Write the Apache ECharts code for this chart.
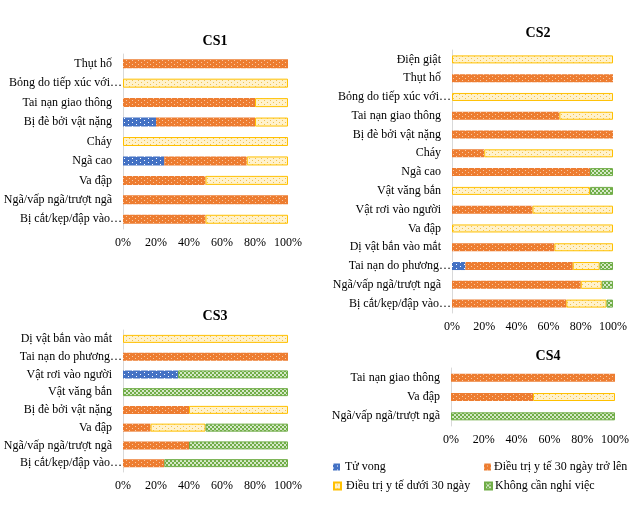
<!DOCTYPE html>
<html>
<head>
<meta charset="utf-8">
<script src="https://cdn.jsdelivr.net/npm/echarts@6/dist/echarts.min.js"></script>
<style>
  html, body { margin: 0; padding: 0; background: #fff; }
  #main { width: 640px; height: 506px; }
</style>
</head>
<body>
<div id="main"></div>
<script>
// du lieu (phan tram) - danh muc tu tren xuong duoi
var seriesNames = ['Tử vong', 'Điều trị y tế 30 ngày trở lên', 'Điều trị y tế dưới 30 ngày', 'Không cần nghỉ việc'];

var cs1Cats = ['Thụt hố', 'Bỏng do tiếp xúc với…', 'Tai nạn giao thông', 'Bị đè bởi vật nặng', 'Cháy', 'Ngã cao', 'Va đập', 'Ngã/vấp ngã/trượt ngã', 'Bị cắt/kẹp/đập vào…'];
var cs1Death    = [0, 0, 0, 20, 0, 25, 0, 0, 0];
var cs1Over30   = [100, 0, 80, 60, 0, 50, 50, 100, 50];
var cs1Under30  = [0, 100, 20, 20, 100, 25, 50, 0, 50];
var cs1NoLeave  = [0, 0, 0, 0, 0, 0, 0, 0, 0];

var cs2Cats = ['Điện giật', 'Thụt hố', 'Bỏng do tiếp xúc với…', 'Tai nạn giao thông', 'Bị đè bởi vật nặng', 'Cháy', 'Ngã cao', 'Vật văng bắn', 'Vật rơi vào người', 'Va đập', 'Dị vật bắn vào mắt', 'Tai nạn do phương…', 'Ngã/vấp ngã/trượt ngã', 'Bị cắt/kẹp/đập vào…'];
var cs2Death    = [0, 0, 0, 0, 0, 0, 0, 0, 0, 0, 0, 8.3, 0, 0];
var cs2Over30   = [0, 100, 0, 66.7, 100, 20, 85.7, 0, 50, 0, 63.6, 66.7, 80, 71];
var cs2Under30  = [100, 0, 100, 33.3, 0, 80, 0, 85.7, 50, 100, 36.4, 16.7, 13, 25];
var cs2NoLeave  = [0, 0, 0, 0, 0, 0, 14.3, 14.3, 0, 0, 0, 8.3, 7, 4];

var cs3Cats = ['Dị vật bắn vào mắt', 'Tai nạn do phương…', 'Vật rơi vào người', 'Vật văng bắn', 'Bị đè bởi vật nặng', 'Va đập', 'Ngã/vấp ngã/trượt ngã', 'Bị cắt/kẹp/đập vào…'];
var cs3Death    = [0, 0, 33.3, 0, 0, 0, 0, 0];
var cs3Over30   = [0, 100, 0, 0, 40, 16.7, 40, 25];
var cs3Under30  = [100, 0, 0, 0, 60, 33.3, 0, 0];
var cs3NoLeave  = [0, 0, 66.7, 100, 0, 50, 60, 75];

var cs4Cats = ['Tai nạn giao thông', 'Va đập', 'Ngã/vấp ngã/trượt ngã'];
var cs4Death    = [0, 0, 0];
var cs4Over30   = [100, 50, 0];
var cs4Under30  = [0, 50, 0];
var cs4NoLeave  = [0, 0, 100];

var FONT = 'Liberation Serif';

// hoa van cho cot
function dotPattern(bg, dot, w, h) {
	var c = document.createElement('canvas');
	c.width = w; c.height = h;
	var ctx = c.getContext('2d');
	ctx.fillStyle = bg;
	ctx.fillRect(0, 0, w, h);
	ctx.fillStyle = dot;
	ctx.fillRect(0, 0, 1, 1);
	ctx.fillRect(Math.floor(w / 2), Math.floor(h / 2), 1, 1);
	return { image: c, repeat: 'repeat' };
}
function checkPattern(a, b) {
	var c = document.createElement('canvas');
	c.width = 4; c.height = 4;
	var ctx = c.getContext('2d');
	ctx.fillStyle = a;
	ctx.fillRect(0, 0, 4, 4);
	ctx.fillStyle = b;
	ctx.fillRect(0, 0, 2, 2);
	ctx.fillRect(2, 2, 2, 2);
	return { image: c, repeat: 'repeat' };
}

var fills = [
	dotPattern('#4472C4', '#ffffff', 8, 4),
	dotPattern('#ED7D31', '#F8C9A6', 6, 4),
	dotPattern('#FFF2CC', '#F2C14E', 6, 4),
	checkPattern('#70AD47', '#D5E8C8')
];
var borders = ['#4472C4', '#ED7D31', '#FFC000', '#70AD47'];

var charts = [
	{ title: 'CS1', tx: 210, ty: 29, cats: cs1Cats, data: [cs1Death, cs1Over30, cs1Under30, cs1NoLeave],
	  grid: { left: 123, top: 54, width: 165, height: 175 }, bw: 9 },
	{ title: 'CS2', tx: 533, ty: 21, cats: cs2Cats, data: [cs2Death, cs2Over30, cs2Under30, cs2NoLeave],
	  grid: { left: 452, top: 50, width: 161, height: 263 }, bw: 8 },
	{ title: 'CS3', tx: 210, ty: 304, cats: cs3Cats, data: [cs3Death, cs3Over30, cs3Under30, cs3NoLeave],
	  grid: { left: 123, top: 330, width: 165, height: 142 }, bw: 8 },
	{ title: 'CS4', tx: 543, ty: 344, cats: cs4Cats, data: [cs4Death, cs4Over30, cs4Under30, cs4NoLeave],
	  grid: { left: 451, top: 368, width: 164, height: 58 }, bw: 8 }
];

var titles = [], grids = [], xAxes = [], yAxes = [], series = [];
charts.forEach(function (ch, gi) {
	titles.push({
		text: ch.title, left: ch.tx, top: ch.ty, textAlign: 'center',
		textStyle: { fontFamily: FONT, fontSize: 14, fontWeight: 'bold', color: '#000' }
	});
	grids.push(ch.grid);
	xAxes.push({
		type: 'value', gridIndex: gi, min: 0, max: 100, interval: 20,
		axisLine: { show: false }, axisTick: { show: false }, splitLine: { show: false },
		axisLabel: { formatter: '{value}%', fontFamily: FONT, fontSize: 12, color: '#000', margin: 8 }
	});
	yAxes.push({
		type: 'category', gridIndex: gi, data: ch.cats, inverse: true,
		axisLine: { show: true, lineStyle: { color: '#D9D9D9' } }, axisTick: { show: false },
		axisLabel: {
			margin: 1, fontFamily: FONT, fontSize: 12, color: '#000',
			formatter: function (v) {
				return v.charAt(v.length - 1) === '…' ? v : v + '{s| }';
			},
			rich: { s: { width: 10 } }
		}
	});
	for (var k = 0; k < 4; k++) {
		series.push({
			name: seriesNames[k], type: 'bar', stack: 'cs' + gi,
			xAxisIndex: gi, yAxisIndex: gi, barWidth: ch.bw,
			data: ch.data[k].map(function (v) { return v === 0 ? null : v; }),
			itemStyle: { color: fills[k], borderColor: borders[k], borderWidth: (k >= 2 ? 1 : 0) },
			silent: true
		});
	}
});

var legendPos = [[328, 456, 0], [479, 456, -2], [328, 475, 0], [479, 475, -2]];
var legends = seriesNames.map(function (n, i) {
	return {
		data: [n], left: legendPos[i][0], top: legendPos[i][1], icon: 'rect',
		itemWidth: 7, itemHeight: 7, itemGap: 0, selectedMode: false,
		textStyle: { fontFamily: FONT, fontSize: 12, color: '#000', padding: [0, 0, 0, legendPos[i][2]] }
	};
});

var chart = echarts.init(document.getElementById('main'), null, { renderer: 'canvas' });
chart.setOption({
	backgroundColor: '#ffffff',
	animation: false,
	title: titles,
	legend: legends,
	grid: grids,
	xAxis: xAxes,
	yAxis: yAxes,
	series: series
});
</script>
</body>
</html>
